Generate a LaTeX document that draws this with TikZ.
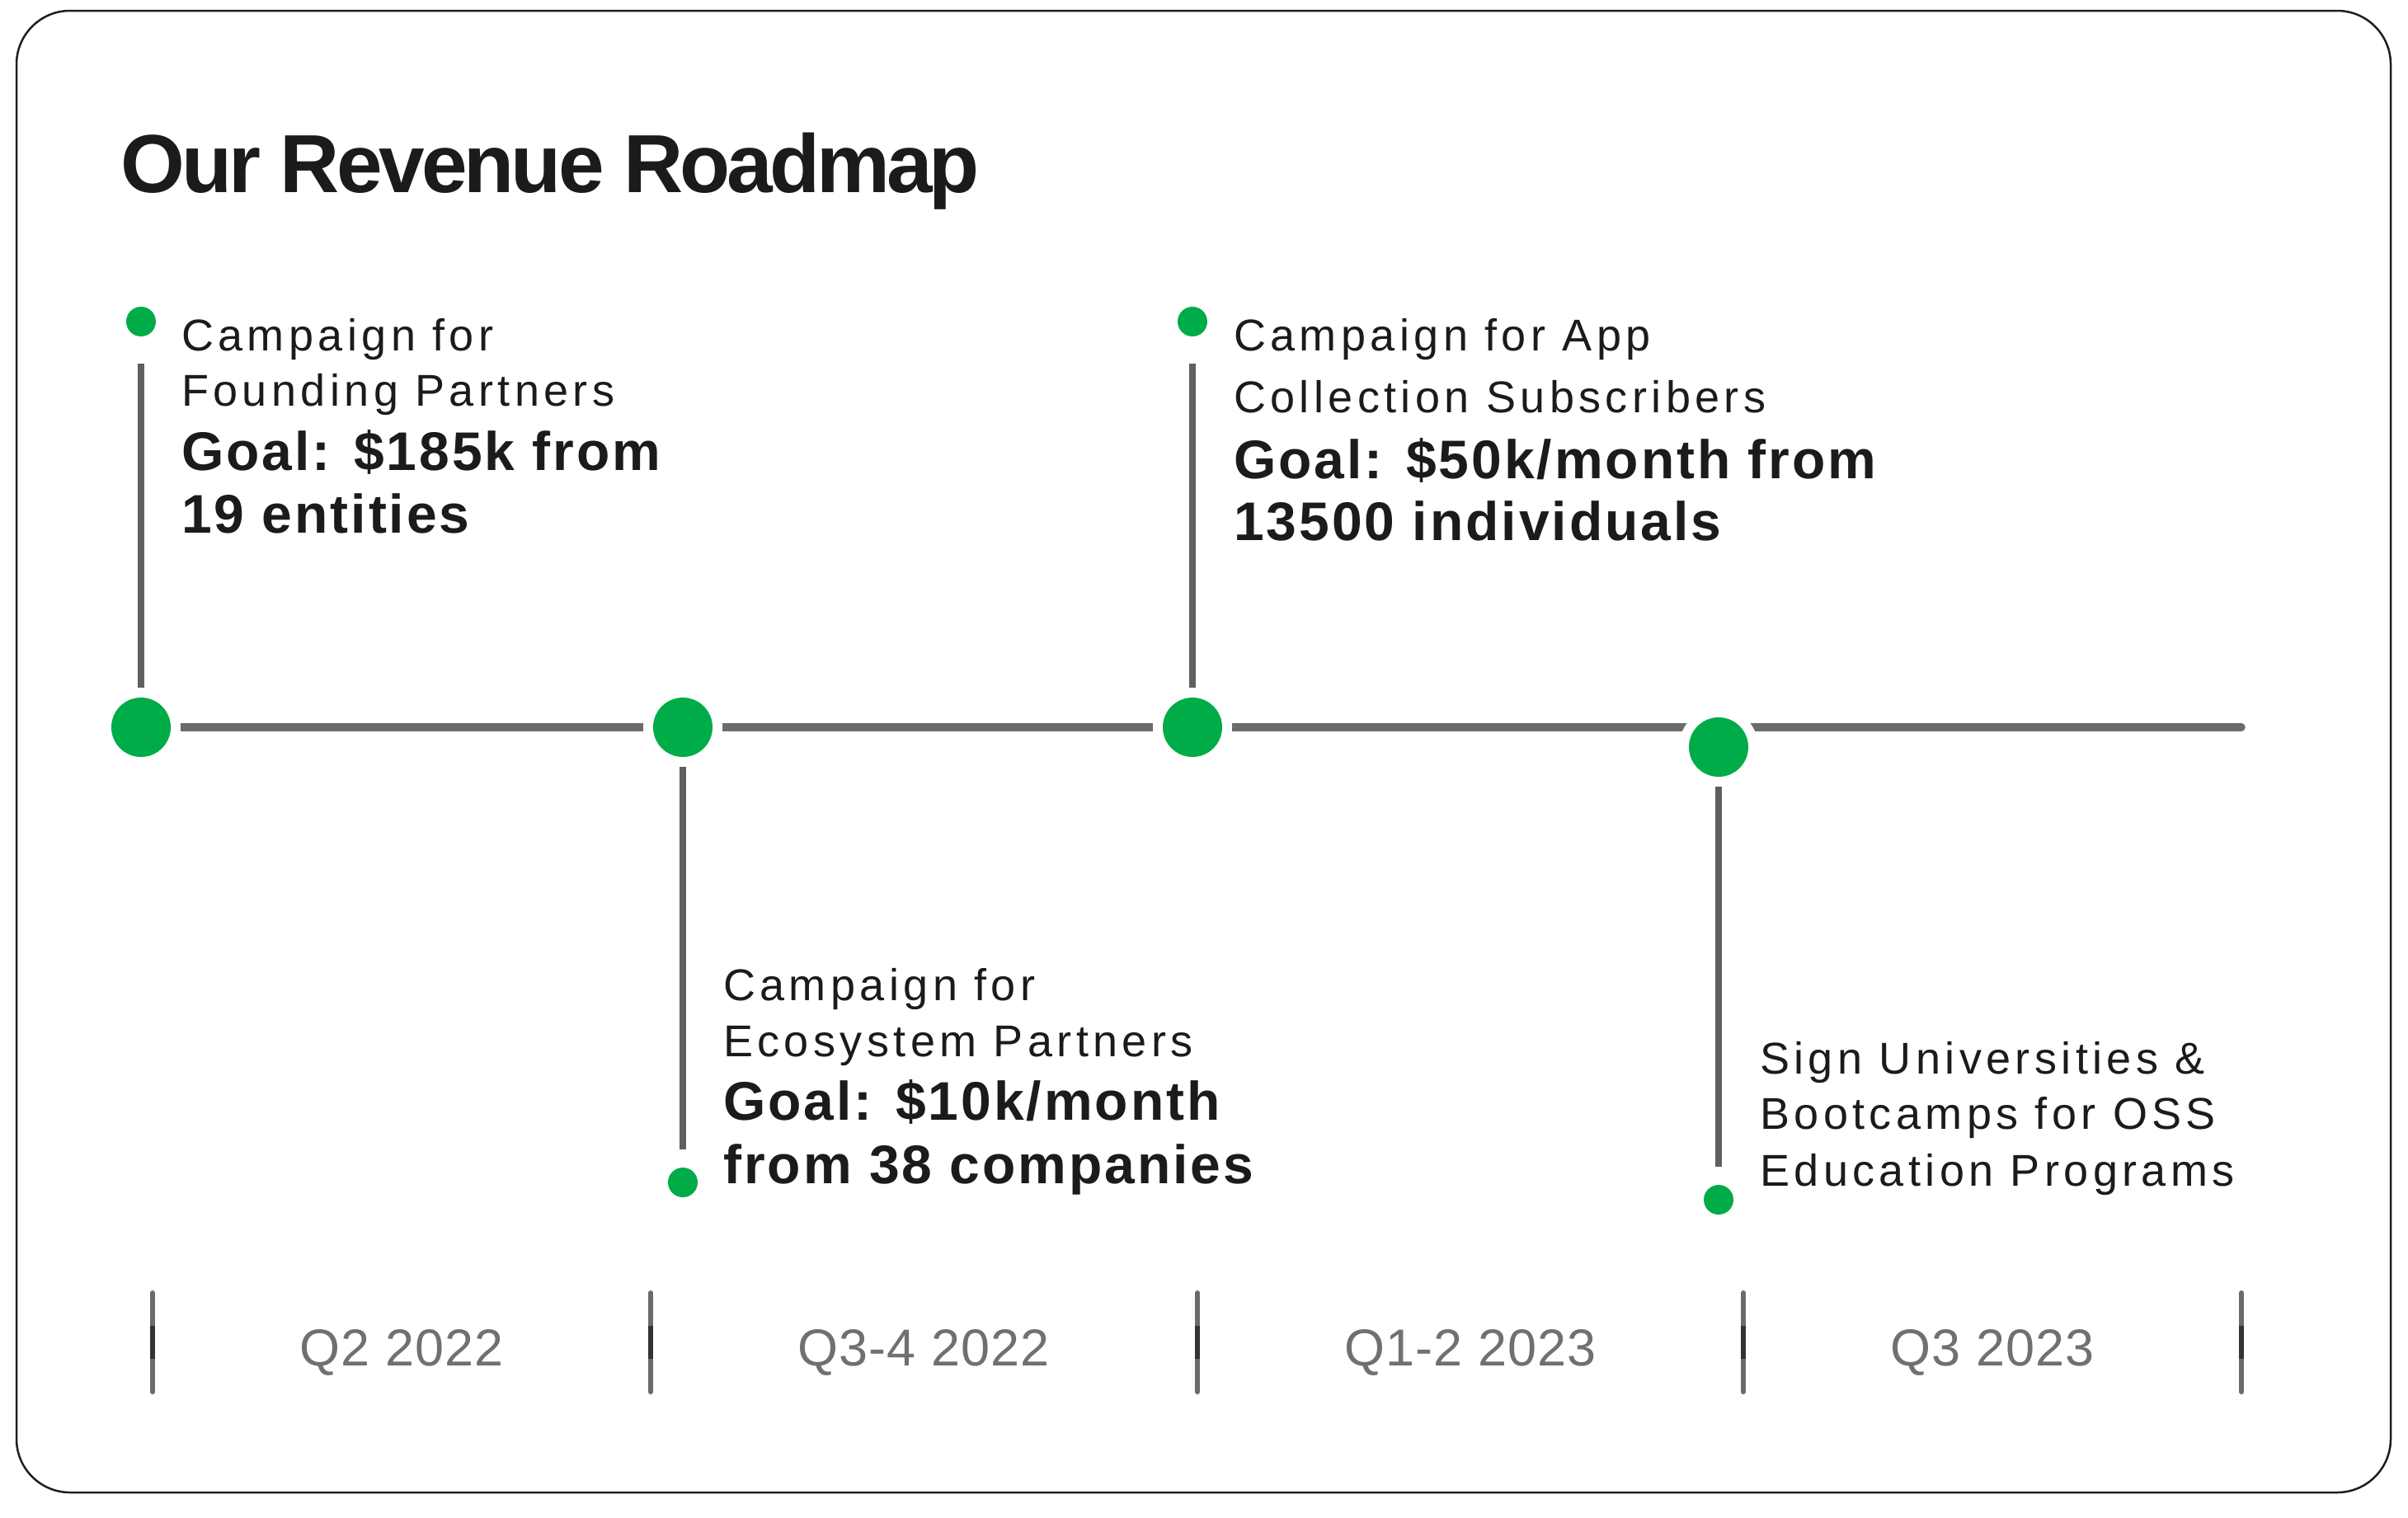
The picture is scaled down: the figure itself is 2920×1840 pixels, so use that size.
\documentclass[tikz,border=0pt]{standalone}
\usepackage{fontspec}
\setmainfont{Liberation Sans}
\newfontfamily\regf{Liberation Sans}[LetterSpace=10]
\newfontfamily\boldf{Liberation Sans}[LetterSpace=4.5]
\newfontfamily\titlef{Liberation Sans}[LetterSpace=-4]
\newfontfamily\qf{Liberation Sans}[LetterSpace=1.5]
\usetikzlibrary{backgrounds}
\definecolor{gdot}{HTML}{00AC47}
\definecolor{linegray}{HTML}{6B6B6B}
\definecolor{stemgray}{HTML}{5F5F5F}
\definecolor{txt}{HTML}{1B1B1B}
\definecolor{qgray}{HTML}{707070}
\definecolor{tickdark}{HTML}{333333}
\definecolor{framecol}{HTML}{1E1E1E}
\begin{document}
\begin{tikzpicture}[x=1pt,y=-1pt,
  framebox/.style={draw=framecol, line width=2.5pt, fill=white, rounded corners=65pt},
  titletext/.style={anchor=base west, inner sep=0, text=txt, font=\titlef\bfseries\fontsize{100}{116}\selectfont},
  regtext/.style={anchor=base west, inner sep=0, text=txt, font=\regf\fontsize{54}{62}\selectfont},
  boldtext/.style={anchor=base west, inner sep=0, text=txt, font=\boldf\bfseries\fontsize{66}{76}\selectfont},
  qlabel/.style={anchor=base, inner sep=0, text=qgray, font=\qf\fontsize{63}{72}\selectfont},
  bigdot/.style={circle, inner sep=0, minimum size=72pt, fill=gdot, preaction={draw=white, line width=24pt}},
  smalldot/.style={circle, inner sep=0, minimum size=36pt, fill=gdot},
  mainline/.style={draw=linegray, line width=9.5pt, line cap=round},
  stemline/.style={draw=stemgray, line width=7.5pt},
  tickline/.style={draw=linegray, line width=6pt, line cap=round},
  tickmid/.style={draw=tickdark, line width=6pt}
]
\useasboundingbox (0,0) rectangle (2920,1840);

% title
\node[titletext] (title) at (146,233) {Our Revenue Roadmap};

% milestones on the main line
\node[bigdot] (c1) at (171,882) {};
\node[bigdot] (c2) at (828,882) {};
\node[bigdot] (c3) at (1446,882) {};
\node[bigdot] (c4) at (2084,906) {};
\coordinate (lend) at (2718,882);

% small end dots
\node[smalldot] (s1) at (171,390) {};
\node[smalldot] (s2) at (828,1434) {};
\node[smalldot] (s3) at (1446,390) {};
\node[smalldot] (s4) at (2084,1455) {};

% event 1
\node[regtext] (e1a) at (220,425) {Campaign for};
\node[regtext] (e1b) at (220,492) {Founding Partners};
\node[boldtext] (e1c) at (220,570) {Goal: \$185k from};
\node[boldtext] (e1d) at (220,646) {19 entities};

% event 2
\node[regtext] (e2a) at (877,1213) {Campaign for};
\node[regtext] (e2b) at (877,1281) {Ecosystem Partners};
\node[boldtext] (e2c) at (877,1358) {Goal: \$10k/month};
\node[boldtext] (e2d) at (877,1435) {from 38 companies};

% event 3
\node[regtext] (e3a) at (1496,425) {Campaign for App};
\node[regtext] (e3b) at (1496,500) {Collection Subscribers};
\node[boldtext] (e3c) at (1496,580) {Goal: \$50k/month from};
\node[boldtext] (e3d) at (1496,655) {13500 individuals};

% event 4
\node[regtext] (e4a) at (2134,1302) {Sign Universities \&};
\node[regtext] (e4b) at (2134,1369) {Bootcamps for OSS};
\node[regtext] (e4c) at (2134,1438) {Education Programs};

% quarter labels
\node[qlabel] (q1) at (487,1656) {Q2 2022};
\node[qlabel] (q2) at (1120,1656) {Q3-4 2022};
\node[qlabel] (q3) at (1783,1656) {Q1-2 2023};
\node[qlabel] (q4) at (2416,1656) {Q3 2023};

\begin{pgfonlayer}{background}
  \draw[framebox] (20,13) rectangle (2899,1810);
  \draw[mainline] (c1.center) -- (lend);
  \draw[stemline, shorten <=33pt] (s1) -- (c1.center);
  \draw[stemline, shorten >=22pt] (c2.center) -- (s2);
  \draw[stemline, shorten <=33pt] (s3) -- (c3.center);
  \draw[stemline, shorten >=22pt] (c4.center) -- (s4);
  \foreach \x in {185,789,1452,2114,2718} {
    \draw[tickline] (\x,1568) -- (\x,1688);
    \draw[tickmid] (\x,1608) -- (\x,1648);
  }
\end{pgfonlayer}
\end{tikzpicture}
\end{document}
